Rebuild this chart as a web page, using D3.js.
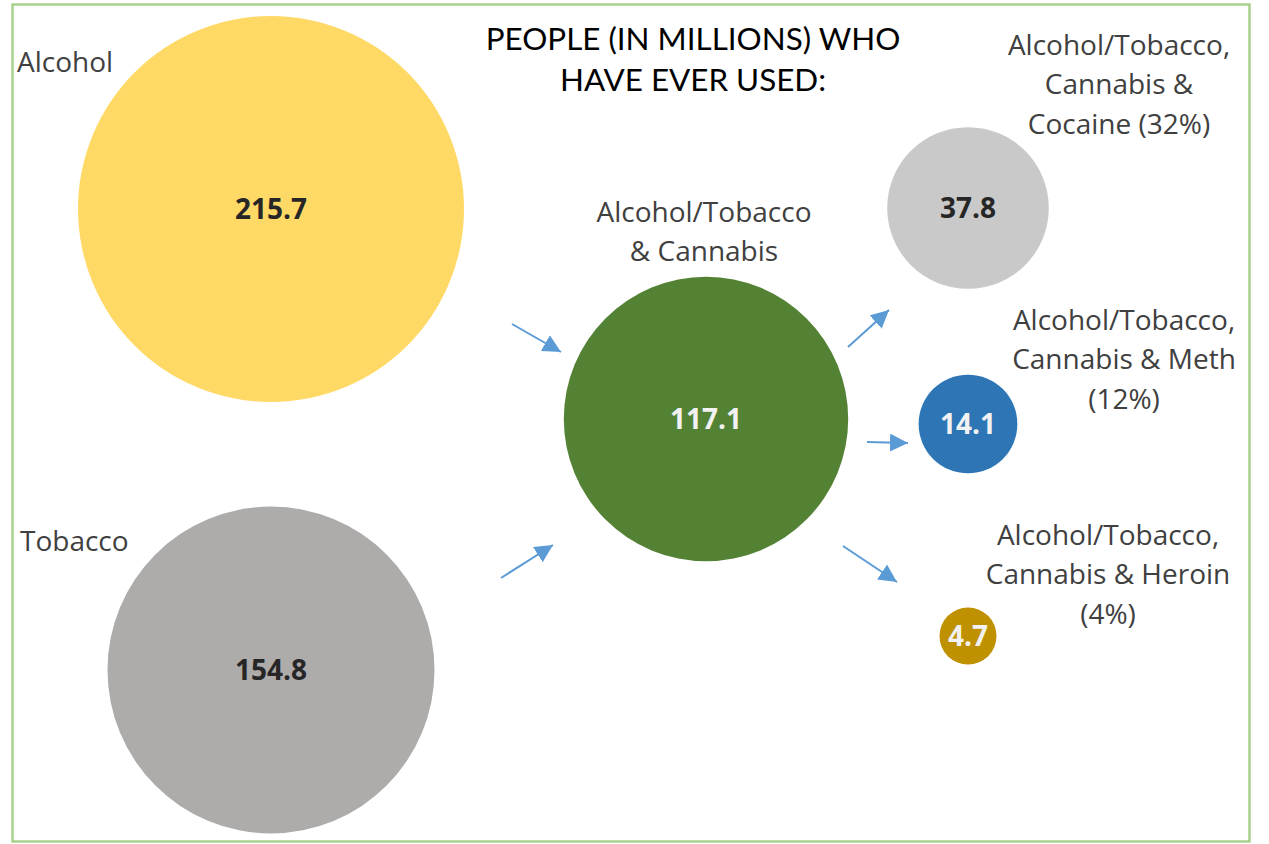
<!DOCTYPE html>
<html>
<head>
<meta charset="utf-8">
<script src="https://cdn.jsdelivr.net/npm/d3@7"></script>
<style>
  html, body { margin: 0; padding: 0; background: #fff; }
  svg { display: block; }
</style>
</head>
<body>
<svg id="chart" width="1269" height="844"></svg>
<script>
// Substance groups and the number of people (millions) who have ever used them
const categories = ["Alcohol", "Tobacco", "Cannabis", "Cocaine", "Meth", "Heroin"];
const values = [215.7, 154.8, 117.1, 37.8, 14.1, 4.7];
const labelLines = [
  ["Alcohol"],
  ["Tobacco"],
  ["Alcohol/Tobacco", "& Cannabis"],
  ["Alcohol/Tobacco,", "Cannabis &", "Cocaine (32%)"],
  ["Alcohol/Tobacco,", "Cannabis & Meth", "(12%)"],
  ["Alcohol/Tobacco,", "Cannabis & Heroin", "(4%)"]
];
const titleLines = ["PEOPLE (IN MILLIONS) WHO", "HAVE EVER USED:"];

// Flow from the gateway substances to cannabis and then on to harder drugs
const flows = [
  ["Alcohol", "Cannabis"],
  ["Tobacco", "Cannabis"],
  ["Cannabis", "Cocaine"],
  ["Cannabis", "Meth"],
  ["Cannabis", "Heroin"]
];

// Layout: bubble centres, label anchors and arrow segments
const layout = {
  Alcohol:  { cx: 271, cy: 209, fill: "#ffd966", text: "#262626", label: { x: 17,   y: 62,  anchor: "start" } },
  Tobacco:  { cx: 271, cy: 670, fill: "#aeabab", text: "#262626", label: { x: 20,   y: 541, anchor: "start" } },
  Cannabis: { cx: 706, cy: 419, fill: "#548235", text: "#f2f2f2", label: { x: 704,  y: 212, anchor: "middle" } },
  Cocaine:  { cx: 968, cy: 208, fill: "#c9c9c9", text: "#262626", label: { x: 1119, y: 45,  anchor: "middle" } },
  Meth:     { cx: 968, cy: 424, fill: "#2e75b6", text: "#f2f2f2", label: { x: 1124, y: 320, anchor: "middle" } },
  Heroin:   { cx: 968, cy: 636, fill: "#bf9000", text: "#f2f2f2", label: { x: 1108, y: 535, anchor: "middle" } }
};
const arrowPaths = {
  "Alcohol-Cannabis": [[512, 324], [561, 352]],
  "Tobacco-Cannabis": [[501, 578], [553, 545]],
  "Cannabis-Cocaine": [[848, 347], [889, 310]],
  "Cannabis-Meth":    [[867, 442], [908, 443]],
  "Cannabis-Heroin":  [[843, 546], [897, 582]]
};

const data = categories.map((c, i) => ({ name: c, value: values[i], lines: labelLines[i] }));

const svg = d3.select("#chart");

// Bubble area proportional to the value
const r = d3.scaleSqrt().domain([0, d3.max(values)]).range([0, 193]);

// Frame
svg.append("rect")
  .attr("x", 12.5).attr("y", 4.5)
  .attr("width", 1237).attr("height", 837)
  .attr("fill", "none")
  .attr("stroke", "#a9d18e")
  .attr("stroke-width", 2.5);

// Arrow marker
svg.append("defs").append("marker")
  .attr("id", "arrowhead")
  .attr("viewBox", "0 0 10 10")
  .attr("refX", 10).attr("refY", 5)
  .attr("markerWidth", 9).attr("markerHeight", 9)
  .attr("markerUnits", "strokeWidth")
  .attr("orient", "auto")
  .append("path")
  .attr("d", "M0,0 L10,5 L0,10 Z")
  .attr("fill", "#5b9bd5");

// Bubbles
const bubbles = svg.append("g").selectAll("g")
  .data(data)
  .join("g")
  .attr("transform", d => `translate(${layout[d.name].cx},${layout[d.name].cy})`);

bubbles.append("circle")
  .attr("r", d => r(d.value))
  .attr("fill", d => layout[d.name].fill);

bubbles.append("text")
  .attr("text-anchor", "middle")
  .attr("dy", "0.36em")
  .attr("font-family", "'Open Sans', 'Noto Sans', sans-serif")
  .attr("font-weight", 700)
  .attr("font-size", 28)
  .attr("fill", d => layout[d.name].text)
  .text(d => d3.format(".1f")(d.value));

// Arrows
svg.append("g").selectAll("line")
  .data(flows)
  .join("line")
  .each(function (f) {
    const p = arrowPaths[f[0] + "-" + f[1]];
    d3.select(this)
      .attr("x1", p[0][0]).attr("y1", p[0][1])
      .attr("x2", p[1][0]).attr("y2", p[1][1]);
  })
  .attr("stroke", "#5b9bd5")
  .attr("stroke-width", 2)
  .attr("marker-end", "url(#arrowhead)");

// Category labels
const labels = svg.append("g").selectAll("text")
  .data(data)
  .join("text")
  .attr("font-family", "'Open Sans', 'Noto Sans', sans-serif")
  .attr("font-size", 28)
  .attr("fill", "#404040")
  .attr("text-anchor", d => layout[d.name].label.anchor)
  .attr("x", d => layout[d.name].label.x)
  .attr("y", d => layout[d.name].label.y);

labels.selectAll("tspan")
  .data(d => d.lines.map(l => ({ line: l, x: layout[d.name].label.x })))
  .join("tspan")
  .attr("x", t => t.x)
  .attr("dy", (t, i) => i === 0 ? "0.35em" : "39.5")
  .text(t => t.line);

// Title
svg.append("text")
  .attr("text-anchor", "middle")
  .attr("font-family", "Lato, 'Open Sans', sans-serif")
  .attr("font-size", 31.4)
  .attr("fill", "#000")
  .attr("x", 693)
  .attr("y", 39)
  .selectAll("tspan")
  .data(titleLines)
  .join("tspan")
  .attr("x", 693)
  .attr("dy", (d, i) => i === 0 ? "0.35em" : "41")
  .text(d => d);
</script>
</body>
</html>
